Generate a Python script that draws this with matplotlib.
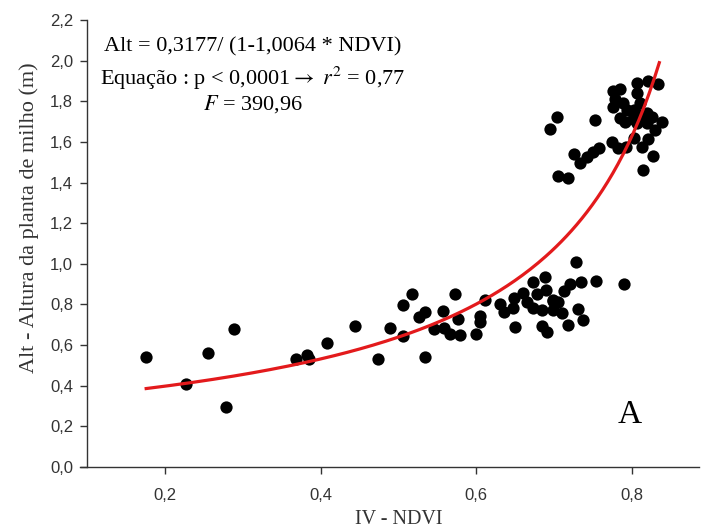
import numpy as np
import matplotlib
matplotlib.use("Agg")
import matplotlib.pyplot as plt
from matplotlib.ticker import FuncFormatter

plt.rcParams['mathtext.fontset'] = 'stix'

# IV - NDVI (x) e altura da planta de milho em m (y)
ndvi = [0.176, 0.227, 0.256, 0.279, 0.289, 0.369, 0.383, 0.385, 0.408, 0.444,
        0.474, 0.489, 0.506, 0.506, 0.517, 0.526, 0.534, 0.534, 0.546, 0.557,
        0.558, 0.566, 0.572, 0.576, 0.579, 0.600, 0.605, 0.605, 0.611, 0.631,
        0.636, 0.647, 0.648, 0.650, 0.660, 0.665, 0.673, 0.673, 0.678, 0.684,
        0.684, 0.688, 0.690, 0.691, 0.698, 0.699, 0.705, 0.699, 0.710, 0.713,
        0.720, 0.728, 0.730, 0.735, 0.737, 0.718, 0.754, 0.790,
        0.703, 0.695, 0.753, 0.726, 0.733, 0.742, 0.750, 0.758, 0.705, 0.718,
        0.774, 0.782, 0.792, 0.803, 0.813, 0.821, 0.827, 0.814, 0.776, 0.785,
        0.778, 0.806, 0.821, 0.833, 0.806, 0.775, 0.789, 0.793, 0.803, 0.810,
        0.785, 0.791, 0.801, 0.810, 0.819, 0.825, 0.819, 0.838, 0.830, 0.806]
altura = [0.543, 0.408, 0.563, 0.294, 0.678, 0.531, 0.551, 0.530, 0.609, 0.695,
          0.531, 0.684, 0.797, 0.646, 0.851, 0.737, 0.764, 0.543, 0.678, 0.768,
          0.683, 0.655, 0.850, 0.728, 0.650, 0.653, 0.712, 0.743, 0.822, 0.802,
          0.764, 0.784, 0.830, 0.688, 0.855, 0.813, 0.781, 0.909, 0.850, 0.773,
          0.695, 0.937, 0.871, 0.666, 0.818, 0.822, 0.814, 0.773, 0.756, 0.868,
          0.901, 1.009, 0.776, 0.912, 0.723, 0.697, 0.917, 0.899,
          1.724, 1.662, 1.706, 1.540, 1.495, 1.527, 1.552, 1.568, 1.434, 1.424,
          1.601, 1.568, 1.573, 1.621, 1.573, 1.612, 1.532, 1.462, 1.852, 1.859,
          1.809, 1.891, 1.901, 1.885, 1.839, 1.773, 1.790, 1.757, 1.757, 1.790,
          1.716, 1.699, 1.711, 1.732, 1.741, 1.724, 1.691, 1.699, 1.658, 1.691]

# modelo ajustado: Alt = 0,3177 / (1 - 1,0064 * NDVI)
a, b = 0.3177, 1.0064
xfit = np.linspace(min(ndvi), 0.835, 200)
yfit = a / (1 - b * xfit)

fig = plt.figure(figsize=(7.03, 5.32), dpi=100)
ax = fig.add_axes([80 / 703, 1 - 467 / 532, 619 / 703, 447 / 532])

ax.scatter(ndvi, altura, s=78, color='black', zorder=3, linewidths=0)
ax.plot(xfit, yfit, color='#e31a1c', lw=2.3, zorder=4)

ax.set_xlim(0.091, 0.886)
ax.set_ylim(0, 2.2)
ax.set_xticks([0.2, 0.4, 0.6, 0.8])
ax.set_yticks(np.arange(0, 2.21, 0.2))
comma = FuncFormatter(lambda v, p: f'{v:.1f}'.replace('.', ','))
ax.xaxis.set_major_formatter(comma)
ax.yaxis.set_major_formatter(comma)

ax.spines['top'].set_visible(False)
ax.spines['right'].set_visible(False)
ax.spines['left'].set_position(('data', 0.1))
for s in ('left', 'bottom'):
    ax.spines[s].set_linewidth(1.0)
    ax.spines[s].set_color('#333333')
ax.tick_params(direction='out', length=5, width=1, labelsize=12, pad=5, color='#333333')
for lab in ax.get_xticklabels() + ax.get_yticklabels():
    lab.set_family('Liberation Sans')
    lab.set_color('#333333')
ax.tick_params(axis='x', pad=10)

serif = ['Liberation Serif', 'DejaVu Serif']
ax.set_xlabel('IV - NDVI', family=serif, fontsize=14.5, color='#333333')
ax.set_ylabel('Alt - Altura da planta de milho (m)', family=serif, fontsize=16, color='#333333')
ax.xaxis.set_label_coords(0.5145, -0.096)
ax.yaxis.set_label_coords(-0.066, 0.557)

ax.text(0.3125, 2.067, 'Alt = 0,3177/ (1-1,0064 * NDVI)', family=serif, fontsize=16, ha='center', va='center')
ax.text(0.3125, 1.914, r'Equação : p < 0,0001$\rightarrow$ $r^2$ = 0,77', family=serif, fontsize=16, ha='center', va='center')
ax.text(0.3125, 1.785, r'$F$ = 390,96', family=serif, fontsize=16, ha='center', va='center')
ax.text(0.797, 0.255, 'A', family=serif, fontsize=24, ha='center', va='center')

fig.savefig('out.png', dpi=100)
